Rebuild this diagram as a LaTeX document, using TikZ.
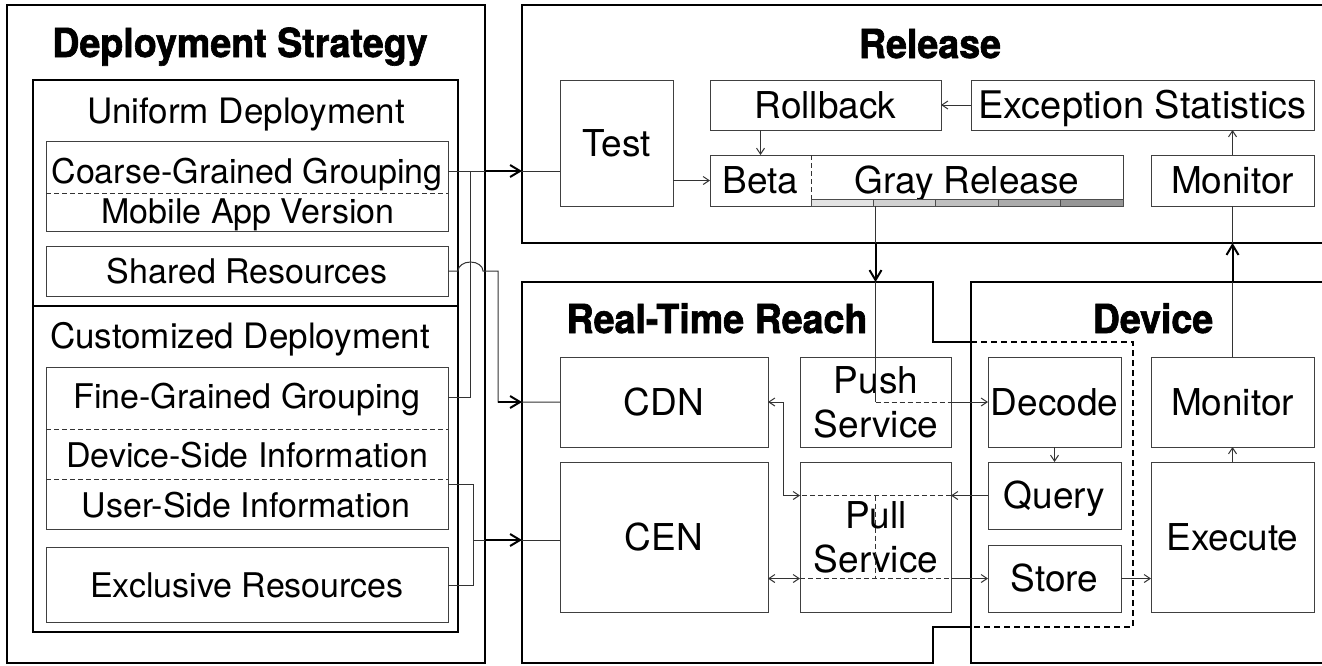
\documentclass[tikz,border=0pt]{standalone}
\usepackage{fontspec}
\setmainfont{TeX Gyre Heros}
\newfontfamily\headfamily{TeX Gyre Heros}[FakeStretch=0.94, BoldFeatures={FakeBold=1.6}]
\usetikzlibrary{arrows.meta}

% box from corner (x1,y1) to (x2,y2), in pixel-like units
\newcommand\boxat[7][]{%
  \node[box,#1,minimum width={#5-#3},minimum height={#6-#4}] (#2)
    at ({(#3+#5)/2},{(#4+#6)/2}) {#7};}

\tikzset{
  box/.style={draw=black!75, line width=1pt, inner sep=0pt, outer sep=0pt},
  frame/.style={draw=black, line width=2pt},
  bodytext/.style={font=\fontsize{37}{40}\selectfont, text height=26.6pt, text depth=0pt},
  lefttext/.style={font=\fontsize{34}{40}\selectfont, anchor=base, inner sep=0pt},
  grouptext/.style={font=\fontsize{35}{40}\selectfont, anchor=base, inner sep=0pt},
  splittext/.style={font=\fontsize{37}{40}\selectfont, anchor=base, inner sep=0pt},
  title/.style={font=\headfamily\bfseries\fontsize{40}{44}\selectfont, anchor=base, inner sep=0pt},
  wire/.style={draw=black!80, line width=1pt},
  thinarrow/.style={wire, -{Straight Barb[length=6pt,width=8pt]}},
  biarrow/.style={wire, {Straight Barb[length=6pt,width=8pt]}-{Straight Barb[length=6pt,width=8pt]}},
  bigarrow/.style={draw=black, line width=2pt, -{Straight Barb[length=10pt,width=12pt]}},
  inner dash/.style={wire, dash pattern=on 5pt off 3pt},
  zone dash/.style={draw=black, line width=2pt, dash pattern=on 6pt off 4pt},
  bar/.style={box, line width=0.8pt, draw=black!70},
}

\begin{document}
\begin{tikzpicture}[x=1pt,y=-1pt]
\useasboundingbox (0,0) rectangle (1322,665);
\fill[white] (0,0) rectangle (1322,665);

% ---------------- Deployment strategy ----------------
\boxat[frame]{strategy}{7}{5}{485}{663}{}
\node[title] (strategytitle) at (240,57) {Deployment Strategy};
\boxat[frame]{uniform}{33}{80}{458}{306}{}
\boxat[frame]{customized}{33}{306}{458}{632}{}

\node[grouptext] (uniformtitle) at (246,123) {Uniform Deployment};
\boxat{coarse}{46}{141}{448}{231}{}
\draw[inner dash] (coarse.west |- 0,193) -- (coarse.east |- 0,193);
\node[lefttext] (coarsetext) at (247,183) {Coarse-Grained Grouping};
\node[lefttext] (versiontext) at (248,223) {Mobile App Version};
\boxat{shared}{46}{246}{448}{296}{}
\node[lefttext] (sharedtext) at (247,283) {Shared Resources};

\node[grouptext] (customtitle) at (240,348) {Customized Deployment};
\boxat{fine}{46}{367}{448}{529}{}
\draw[inner dash] (fine.west |- 0,429) -- (fine.east |- 0,429);
\draw[inner dash] (fine.west |- 0,479) -- (fine.east |- 0,479);
\node[lefttext] (finetext) at (247,408) {Fine-Grained Grouping};
\node[lefttext] (devinfotext) at (247,467) {Device-Side Information};
\node[lefttext] (userinfotext) at (246,517) {User-Side Information};
\boxat{exclusive}{46}{547}{448}{622}{}
\node[lefttext] (exclusivetext) at (247,597) {Exclusive Resources};

% ---------------- Release ----------------
\boxat[frame]{release}{522}{5}{1340}{243}{}
\node[title] (releasetitle) at (930,58) {Release};
\boxat[bodytext]{test}{560}{80}{673}{206}{Test}
\boxat[bodytext]{rollback}{710}{80}{941}{130}{Rollback}
\boxat[bodytext,font=\fontsize{38}{40}\selectfont]{exception}{971}{80}{1314}{130}{Exception Statistics}
\boxat{betagray}{710}{155}{1123}{206}{}
\boxat[bodytext,draw=none]{beta}{710}{155}{811}{206}{Beta}
\boxat[bodytext,draw=none]{gray}{811}{155}{1123}{206}{Gray Release}
\draw[inner dash] (beta.north east) -- (811,199);
\boxat[bar,fill=black!11]{bar1}{811}{199}{873.4}{206}{}
\boxat[bar,fill=black!18]{bar2}{873.4}{199}{935.8}{206}{}
\boxat[bar,fill=black!25]{bar3}{935.8}{199}{998.2}{206}{}
\boxat[bar,fill=black!33]{bar4}{998.2}{199}{1060.6}{206}{}
\boxat[bar,fill=black!41]{bar5}{1060.6}{199}{1123}{206}{}
\boxat[bodytext]{relmonitor}{1151}{155}{1314}{206}{Monitor}

% ---------------- Real-time reach ----------------
\coordinate (reach nw) at (522,282);
\draw[frame] (971,342) -- (933,342) -- (933,282) -- (522,282) -- (522,663)
  -- (933,663) -- (933,627) -- (971,627);
\draw[zone dash] (971,342) -- (1133,342) -- (1133,627) -- (971,627);
\node[title] (reachtitle) at (717,333) {Real-Time Reach};
\boxat[bodytext]{cdn}{560}{357}{768}{447}{CDN}
\boxat[bodytext]{cen}{560}{462}{768}{612}{CEN}
\boxat{push}{800}{357}{951}{447}{}
\node[splittext] (pushtext1) at (876,393) {Push};
\node[splittext] (pushtext2) at (876,437) {Service};
\boxat{pull}{800}{462}{951}{612}{}
\node[splittext] (pulltext1) at (876,528) {Pull};
\node[splittext] (pulltext2) at (876,572) {Service};

% ---------------- Device ----------------
\boxat[frame]{device}{971}{282}{1340}{663}{}
\node[title] (devicetitle) at (1153,333) {Device};
\boxat[bodytext]{decode}{988}{357}{1121}{447}{Decode}
\boxat[bodytext]{query}{988}{462}{1121}{529}{Query}
\boxat[bodytext]{store}{988}{545}{1121}{612}{Store}
\boxat[bodytext]{devmonitor}{1151}{357}{1314}{447}{Monitor}
\boxat[bodytext]{execute}{1151}{462}{1314}{612}{Execute}

% ---------------- Connectors: strategy ----------------
\draw[wire] (coarse.east |- 0,171) -- (test.west |- 0,171);
\draw[bigarrow] (strategy.east |- 0,171) -- (release.west |- 0,171);
\draw[wire] (fine.east |- 0,397) -| (470,171);
\draw[wire] (shared.east |- 0,271) -- (458,271)
  arc[start angle=180, end angle=360, x radius=12.5, y radius=9]
  -- (498,271) |- (cdn.west);
\draw[bigarrow] (498,402) -- (reach nw |- cdn.west);
\draw[wire] (fine.east |- 0,484) -| (473,585) -- (exclusive.east |- 0,585);
\draw[wire] (473,540) -- (cen.west |- 0,540);
\draw[bigarrow] (strategy.east |- 0,540) -- (reach nw |- 0,540);

% ---------------- Connectors: release ----------------
\draw[thinarrow] (exception.west) -- (rollback.east);
\draw[thinarrow] (rollback.south -| beta.north) -- (beta.north);
\draw[thinarrow] (test.east |- betagray.west) -- (betagray.west);
\draw[thinarrow] (relmonitor.north) -- (exception.south -| relmonitor.north);

% ---------------- Connectors: release to reach / device ----------------
\draw[wire] (push.north |- betagray.south) -- (push.north |- decode.west);
\draw[bigarrow] (push.north |- release.south) -- (push.north |- reach nw);
\draw[inner dash] (push.north |- decode.west) -- (push.east |- decode.west);
\draw[thinarrow] (push.east |- decode.west) -- (decode.west);

\draw[wire] (devmonitor.north) -- (relmonitor.south);
\draw[bigarrow] (devmonitor.north |- device.north) -- (relmonitor.south |- release.south);

% ---------------- Connectors: device ----------------
\draw[thinarrow] (decode.south) -- (query.north);
\draw[thinarrow] (execute.north) -- (devmonitor.south);
\draw[thinarrow] (store.east) -- (execute.west |- store.east);

% ---------------- Connectors: pull path ----------------
\draw[thinarrow] (query.west) -- (pull.east |- query.west);
\draw[inner dash] (pull.east |- query.west) -- (pull.west |- query.west);
\draw[biarrow] (pull.west |- query.west) -- (783,495.5) |- (cdn.east);
\draw[inner dash] (push.north |- query.west) -- (push.north |- store.west);
\draw[biarrow] (cen.east |- store.west) -- (pull.west |- store.west);
\draw[inner dash] (pull.west |- store.west) -- (pull.east |- store.west);
\draw[thinarrow] (pull.east |- store.west) -- (store.west);
\end{tikzpicture}
\end{document}
